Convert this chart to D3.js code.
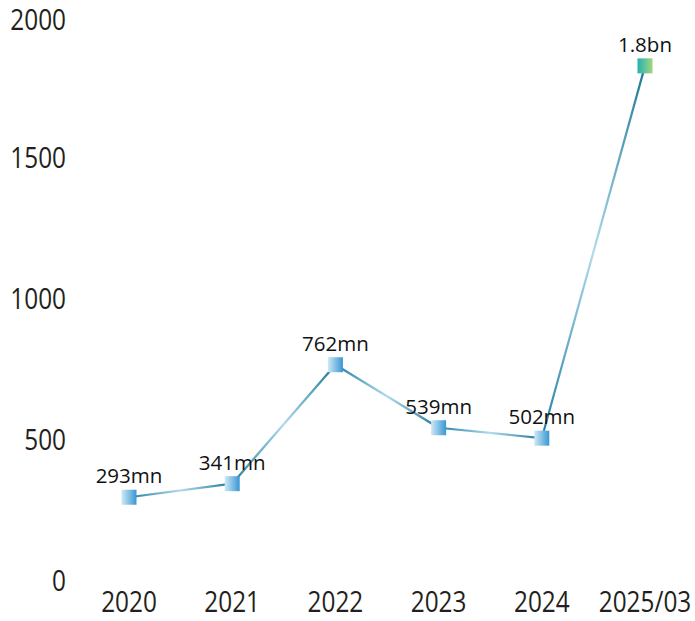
<!DOCTYPE html>
<html><head><meta charset="utf-8">
<script src="https://cdn.jsdelivr.net/npm/d3@7"></script>
<style>body{margin:0;background:#fff}svg{display:block}</style>
</head><body><div id="c"></div>
<script>
const categories = ["2020","2021","2022","2023","2024","2025/03"];
const values = [293, 341, 762, 539, 502, 1820];
const valueLabels = ["293mn","341mn","762mn","539mn","502mn","1.8bn"];
const yTicks = [0, 500, 1000, 1500, 2000];

const W = 695, H = 621;
const svg = d3.select("#c").append("svg").attr("width", W).attr("height", H);
const x = d3.scalePoint().domain(categories).range([129, 645]);
const y = d3.scaleLinear().domain([0, 2000]).range([580, 15]);

const defs = svg.append("defs");
const mg = defs.append("linearGradient").attr("id","mk").attr("x1","0").attr("x2","1").attr("y1","0").attr("y2","0");
mg.append("stop").attr("offset","0").attr("stop-color","#cfe9f6");
mg.append("stop").attr("offset","1").attr("stop-color","#3996d3");
const mg2 = defs.append("linearGradient").attr("id","mk2").attr("x1","0").attr("x2","1").attr("y1","0").attr("y2","0");
mg2.append("stop").attr("offset","0").attr("stop-color","#22b2b2");
mg2.append("stop").attr("offset","1").attr("stop-color","#a3d67c");

const pts = categories.map((c,i)=>({c, v:values[i], l:valueLabels[i], i}));

const fontFam = "'Open Sans', 'Noto Sans', sans-serif";
const ya = svg.append("g");
yTicks.forEach(t=>{
  ya.append("g").attr("transform",`translate(66,${y(t)+ (t===2000?4:0)}) scale(0.84,1)`)
    .append("text").attr("text-anchor","end").attr("dominant-baseline","central")
    .attr("font-family",fontFam).attr("font-size",29).attr("fill","#231f20").text(t);
});
const xa = svg.append("g");
categories.forEach(c=>{
  xa.append("g").attr("transform",`translate(${x(c)},601) scale(0.84,1)`)
    .append("text").attr("text-anchor","middle").attr("dominant-baseline","central")
    .attr("font-family",fontFam).attr("font-size",29).attr("fill","#231f20").text(c);
});

for (let i=0;i<pts.length-1;i++){
  const a=pts[i], b=pts[i+1];
  const g = defs.append("linearGradient").attr("id","sg"+i).attr("gradientUnits","userSpaceOnUse")
    .attr("x1",x(a.c)).attr("y1",y(a.v)).attr("x2",x(b.c)).attr("y2",y(b.v));
  g.append("stop").attr("offset","0").attr("stop-color","#1f7fa3");
  g.append("stop").attr("offset","0.5").attr("stop-color","#b2daec");
  g.append("stop").attr("offset","1").attr("stop-color","#1a7595");
  svg.append("path").attr("d", d3.line().x(d=>x(d.c)).y(d=>y(d.v))([a,b]))
    .attr("stroke","url(#sg"+i+")").attr("stroke-width",2.2).attr("fill","none");
}

svg.append("g").selectAll("rect").data(pts).join("rect")
  .attr("x",d=>x(d.c)-7.5).attr("y",d=>y(d.v)-7.5).attr("width",15).attr("height",15)
  .attr("fill",d=>d.i===pts.length-1?"url(#mk2)":"url(#mk)");

svg.append("g").selectAll("text").data(pts).join("text")
  .attr("x",d=>x(d.c)).attr("y",d=>y(d.v)-14)
  .attr("text-anchor","middle").attr("font-family",fontFam).attr("font-size",20.5)
  .attr("fill","#111").text(d=>d.l);
</script></body></html>
